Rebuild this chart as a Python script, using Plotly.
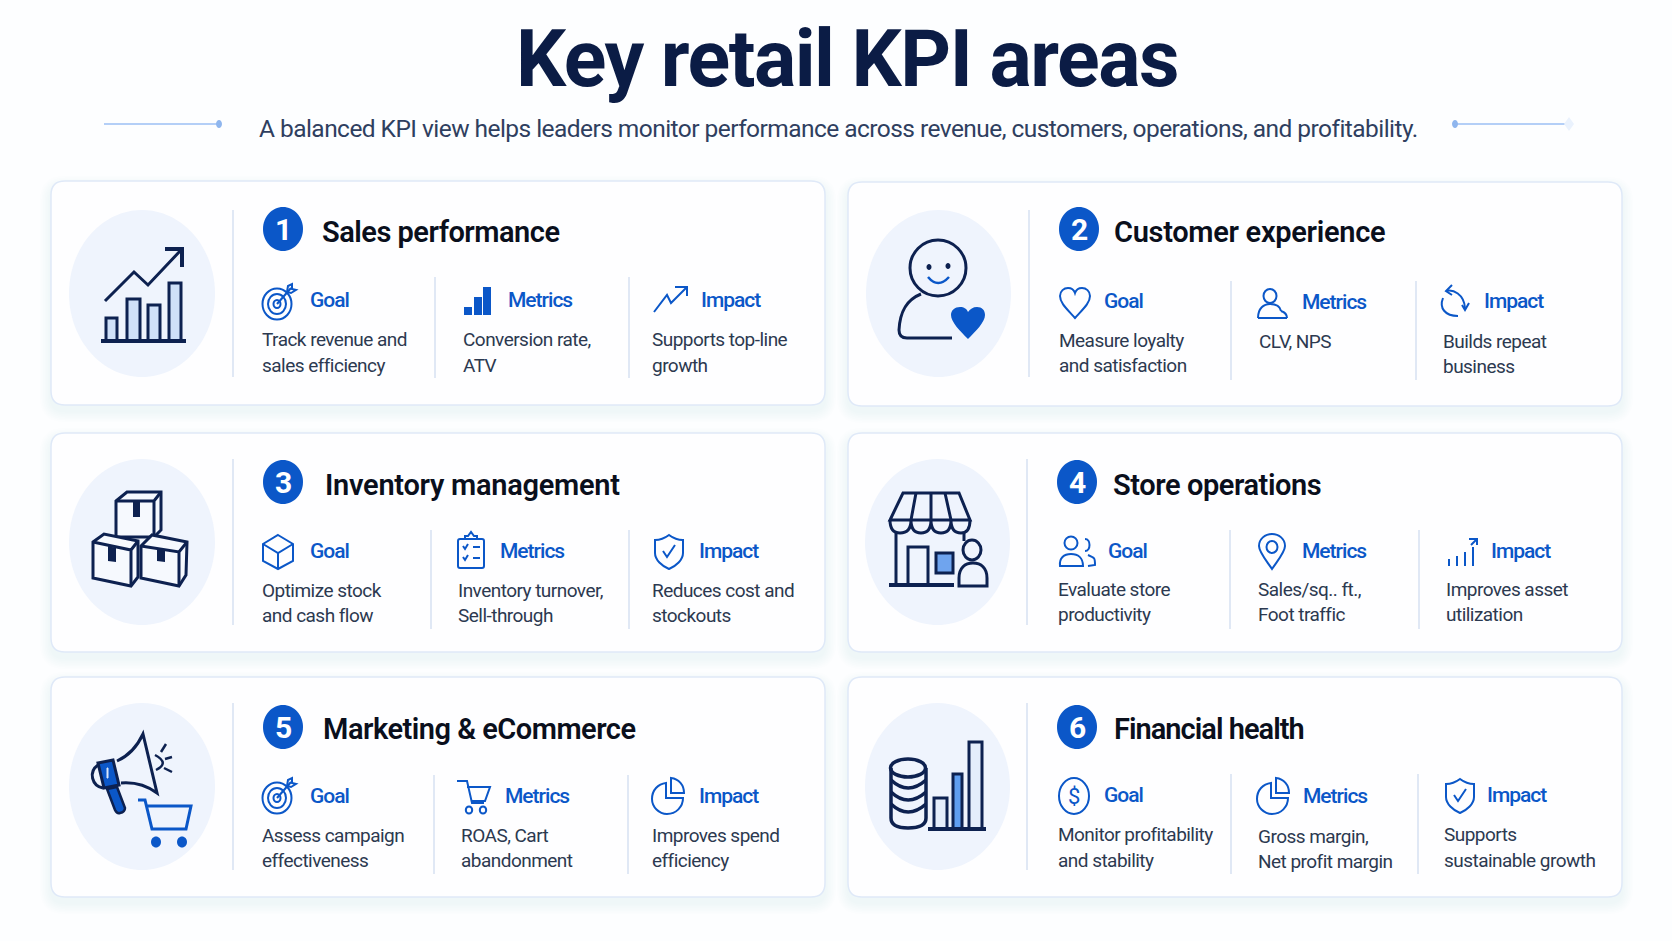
# Key retail KPI areas - infographic drawn with plotly shapes and annotations
import plotly.graph_objects as go

W, H = 1672, 941
FONT = "Roboto"
NAVY = "#0d2150"
BLUE = "#0b57c8"
DARK = "#2c3950"

# ---- text content ----
TITLE = "Key retail KPI areas"
SUBTITLE = "A balanced KPI view helps leaders monitor performance across revenue, customers, operations, and profitability."
HEADINGS = ["Sales performance", "Customer experience", "Inventory management",
            "Store operations", "Marketing & eCommerce", "Financial health"]
LABELS = ["Goal", "Metrics", "Impact"]
GOAL_TEXT = [["Track revenue and", "sales efficiency"], ["Measure loyalty", "and satisfaction"],
             ["Optimize stock", "and cash flow"], ["Evaluate store", "productivity"],
             ["Assess campaign", "effectiveness"], ["Monitor profitability", "and stability"]]
METRIC_TEXT = [["Conversion rate,", "ATV"], ["CLV, NPS"],
               ["Inventory turnover,", "Sell-through"], ["Sales/sq.. ft.,", "Foot traffic"],
               ["ROAS, Cart", "abandonment"], ["Gross margin,", "Net profit margin"]]
IMPACT_TEXT = [["Supports top-line", "growth"], ["Builds repeat", "business"],
               ["Reduces cost and", "stockouts"], ["Improves asset", "utilization"],
               ["Improves spend", "efficiency"], ["Supports", "sustainable growth"]]

# ---- layout of the six cards ----
CARD_BOX = [(51, 181, 825, 405), (848, 182, 1622, 406), (51, 433, 825, 652),
            (848, 433, 1622, 652), (51, 677, 825, 897), (848, 677, 1622, 897)]
BLOB = [(69, 210, 215, 377), (866, 210, 1011, 377), (69, 459, 215, 625),
        (865, 459, 1010, 625), (69, 703, 215, 870), (865, 703, 1010, 870)]
DIVIDER_X = [233, 1029, 233, 1027, 233, 1027]
BADGE_X = [283, 1079, 283, 1077, 283, 1077]
BADGE_Y = [229, 229, 482, 482, 727, 727]
HEAD_X = [321, 1113, 324, 1112, 322, 1113]
HEAD_BASE = [242, 242, 495, 495, 739, 739]
HEAD_LS = [-0.5, -0.3, -0.27, -0.43, -0.5, -0.97]
SEP_X = [(435, 629), (1231, 1416), (431, 629), (1230, 1419), (434, 628), (1231, 1418)]
SEP_Y = [(277, 378), (281, 380), (530, 629), (530, 629), (775, 874), (774, 874)]
ICON_X = [(278, 477, 671), (1075, 1273, 1455), (278, 471, 669),
          (1077, 1272, 1463), (278, 474, 668), (1074, 1273, 1460)]
ICON_Y = [(302, 302, 299), (303, 303, 302), (552, 552, 552),
          (552, 552, 552), (796, 796, 796), (796, 796, 796)]
LABEL_X = [(309, 507, 700), (1103, 1301, 1483), (309, 499, 698),
           (1107, 1301, 1490), (309, 504, 698), (1103, 1302, 1486)]
LABEL_BASE = [(308, 308, 308), (309, 310, 309), (559, 559, 559),
              (559, 559, 559), (804, 804, 804), (803, 804, 803)]
BODY_X = [(261, 462, 651), (1058, 1258, 1442), (261, 457, 651),
          (1057, 1257, 1445), (261, 460, 651), (1057, 1257, 1443)]
BODY_BASE = [((346, 372), (346, 372), (346, 372)), ((347, 372), (348, 373), (348, 373)),
             ((597, 622), (597, 622), (597, 622)), ((596, 621), (596, 621), (596, 621)),
             ((842, 867), (842, 867), (842, 867)), ((841, 867), (843, 868), (841, 867))]
ICON_NAMES = [("target", "bars", "trend"), ("heart", "person", "cycle"),
              ("cube", "clipboard", "shield"), ("people", "pin", "signal"),
              ("target", "cart", "pie"), ("dollar", "pie", "shield")]

shapes, notes = [], []


def path(d, fill=None, line=None, w=0, op=1.0):
    shapes.append(dict(type="path", path=d, xref="x", yref="y", opacity=op,
                       fillcolor=fill or "rgba(0,0,0,0)",
                       line=dict(color=line or "rgba(0,0,0,0)", width=w)))


def rr(x0, y0, x1, y1, r):
    return (f"M {x0+r} {y0} L {x1-r} {y0} Q {x1} {y0} {x1} {y0+r} L {x1} {y1-r} Q {x1} {y1} {x1-r} {y1} "
            f"L {x0+r} {y1} Q {x0} {y1} {x0} {y1-r} L {x0} {y0+r} Q {x0} {y0} {x0+r} {y0} Z")


def ell(cx, cy, rx, ry):
    k = 0.5523
    return (f"M {cx-rx} {cy} C {cx-rx} {cy-k*ry} {cx-k*rx} {cy-ry} {cx} {cy-ry} "
            f"C {cx+k*rx} {cy-ry} {cx+rx} {cy-k*ry} {cx+rx} {cy} "
            f"C {cx+rx} {cy+k*ry} {cx+k*rx} {cy+ry} {cx} {cy+ry} "
            f"C {cx-k*rx} {cy+ry} {cx-rx} {cy+k*ry} {cx-rx} {cy} Z")


def mv(d, dx, dy):
    out, i = [], 0
    for t in d.split():
        if t.isalpha():
            out.append(t)
            i = 0
        else:
            out.append(str(float(t) + (dy if i % 2 else dx)))
            i += 1
    return " ".join(out)


def text(x, base, s, size, color, weight=400, ls=0.0, anchor="left"):
    # y is given as the baseline, shifted to the middle of plotly's text box
    if ls:
        s = f'<span style="letter-spacing:{ls}px">{s}</span>'
    notes.append(dict(x=x, y=base - 0.36 * size, text=s, showarrow=False, xanchor=anchor, yanchor="middle",
                      xref="x", yref="y", borderpad=0,
                      font=dict(family=FONT, size=size, color=color, weight=weight)))


# small line icons, drawn around (0,0)
SHIELD = "M 0 -17 C 4 -14 9 -12 14 -12 L 14 1 C 14 8 7 14 0 17 C -7 14 -14 8 -14 1 L -14 -12 C -9 -12 -4 -14 0 -17 Z"
SMALL = {
    "target": [("s", ell(-1, 2, 14.5, 15.5)), ("s", ell(-1, 2, 9, 10)), ("s", ell(-1, 2, 3.5, 4)),
               ("s", "M -1 2 L 13 -14"), ("s", "M 9 -10 L 10 -16 L 14 -18 L 14 -13 L 18 -12 L 13 -9 L 9 -10")],
    "bars": [("f", "M -13 5 L -5 5 L -5 13 L -13 13 Z"), ("f", "M -3 -5 L 5 -5 L 5 13 L -3 13 Z"),
             ("f", "M 6 -15 L 14 -15 L 14 13 L 6 13 Z")],
    "trend": [("s", "M -17 13 L -4 -4 L 0 4 L 16 -12"), ("s", "M 4 -12 L 16 -12 L 16 -3")],
    "heart": [("s", "M 0 15 C -8 6 -15 0 -15 -7 C -15 -12 -11 -15 -7 -15 C -4 -15 -1 -13 0 -10 "
                    "C 1 -13 4 -15 7 -15 C 11 -15 15 -12 15 -7 C 15 0 8 6 0 15 Z")],
    "person": [("s", ell(-3, -7, 6.5, 7)), ("s", "M -15 15 C -15 5 -9 1 -3 1 C 2 1 7 3 8 8"),
               ("s", "M 8 8 C 11 9 14 11 14 15"), ("s", "M -15 15 L 14 15")],
    "cycle": [("s", "M -9 -11 C -2 -13 9 -8 10 6"), ("s", "M 7 3 L 10 8 L 14 1"), ("s", "M -3 -17 L -9 -11 L -3 -7"),
              ("s", "M -12 -4 C -16 6 -10 14 3 14")],
    "cube": [("s", "M 0 -17 L 15 -8 L 15 9 L 0 17 L -15 9 L -15 -8 Z"), ("s", "M -15 -8 L 0 1 L 15 -8"), ("s", "M 0 1 L 0 17")],
    "clipboard": [("s", rr(-13, -13, 13, 16, 2)), ("s", "M -6 -13 L -6 -16 L -3 -16 L 0 -20 L 3 -16 L 6 -16 L 6 -13 Z"),
                  ("s", "M -8 -6 L -6 -3 L -3 -8"), ("s", "M 2 -5 L 9 -5"),
                  ("s", "M -8 5 L -6 8 L -3 3"), ("s", "M 2 6 L 9 6")],
    "shield": [("s", SHIELD), ("s", "M -6 -1 L -2 5 L 6 -7")],
    "people": [("s", ell(-6, -9, 6.5, 6.5)), ("s", "M -17 14 C -18 6 -13 2 -6 2 C 1 2 6 6 6 14 Z"),
               ("s", "M 8 -13 C 14 -13 14 -1 8 -1"), ("s", "M 11 3 C 18 6 18 6 18 13 L 11 14")],
    "pin": [("s", "M 0 17 C -6 8 -13 0 -13 -6 C -13 -13 -7 -18 0 -18 C 7 -18 13 -13 13 -6 C 13 0 6 8 0 17 Z"),
            ("s", ell(0, -5, 5.5, 6))],
    "signal": [("s", "M -14 7 L -14 14"), ("s", "M -6 4 L -6 14"), ("s", "M 2 0 L 2 14"), ("s", "M 10 -5 L 10 14"),
               ("s", "M 8 -7 L 14 -13"), ("s", "M 6 -13 L 14 -13 L 14 -7")],
    "cart": [("s", "M -17 -15 L -7 -15 L -2 7 L 10 7"), ("s", "M -7 -9 L 16 -9 L 11 5 L -2 5"),
             ("s", ell(-5, 14, 3.2, 3.5)), ("s", ell(9, 14, 3.2, 3.5))],
    "pie": [("s", "M -2 -13 C -10 -12 -16 -6 -16 3 C -16 11 -9 18 -1 18 C 8 18 15 11 15 2 L -2 2 Z"),
            ("s", "M 3 -18 L 3 -3 L 16 -3 C 16 -11 11 -17 3 -18 Z")],
    "dollar": [("s", ell(0, 0, 15, 18))],
}


def small_icon(name, cx, cy):
    for kind, d in SMALL[name]:
        if kind == "f":
            path(mv(d, cx, cy), fill=BLUE)
        else:
            path(mv(d, cx, cy), line=BLUE, w=2)
    if name == "dollar":
        text(cx, cy + 8, "$", 22, BLUE, anchor="center")


def stroke(d, w=3, color=NAVY, fill=None):
    path(d, fill=fill, line=color, w=w)


def big_chart():
    for x0, x1, top in [(106, 117, 318), (127, 140, 299), (148, 160, 305), (169, 181, 283)]:
        stroke(f"M {x0} 341 L {x0} {top} L {x1} {top} L {x1} 341", fill="#cfe0f8")
    stroke("M 101 341 L 186 341", 4)
    stroke("M 105 301 L 134 272 L 148 285 L 181 250")
    stroke("M 165 249 L 182 249 L 182 267", 4)


def big_smile():
    stroke(ell(938, 268, 28, 28))
    path(ell(929, 267, 2.5, 3), fill=NAVY)
    path(ell(948, 266, 2.5, 3), fill=NAVY)
    stroke("M 928 277 Q 938 289 949 277", 2.5, BLUE)
    stroke("M 921 294 C 906 300 900 312 899 330 Q 899 338 907 338 L 952 338")
    path("M 968 339 C 960 331 951 322 951 315 C 951 310 955 307 960 307 C 964 307 967 309 968 312 "
         "C 970 309 973 307 977 307 C 982 307 985 310 985 315 C 985 322 976 331 968 339 Z", fill=BLUE)


def big_boxes():
    stroke("M 116 501 L 127 492 L 161 492 L 161 530 L 154 537 L 116 537 Z", fill="#f6f9fe")
    stroke("M 116 501 L 154 501 L 161 492 M 154 501 L 154 537")
    path("M 133 501 L 140 501 L 140 517 L 133 517 Z", fill=NAVY)
    stroke("M 93 542 L 104 534 L 138 541 L 138 577 L 131 586 L 93 578 Z", fill="#f6f9fe")
    stroke("M 93 542 L 131 550 L 138 541 M 131 550 L 131 586")
    path("M 108 546 L 116 548 L 116 562 L 108 561 Z", fill=NAVY)
    stroke("M 141 546 L 152 535 L 187 542 L 186 575 L 179 586 L 141 578 Z", fill="#f6f9fe")
    stroke("M 141 546 L 179 552 L 187 542 M 179 552 L 179 586")
    path("M 157 549 L 165 550 L 165 562 L 157 561 Z", fill=NAVY)


def big_store():
    stroke("M 896 533 L 896 585 M 964 533 L 964 541")
    stroke("M 889 585 L 954 585", 4)
    stroke("M 908 585 L 908 547 L 928 547 L 928 585")
    stroke("M 936 553 L 953 553 L 953 573 L 936 573 Z", fill="#6fa4ee")
    stroke("M 903 493 L 959 493 L 970 520 L 890 520 Z")
    stroke("M 916 493 L 911 520 M 931 493 L 931 520 M 945 493 L 951 520")
    stroke("M 890 520 Q 890 533 900 533 Q 911 533 911 520 Q 911 533 921 533 Q 931 533 931 520 "
           "Q 931 533 941 533 Q 951 533 951 520 Q 951 533 961 533 Q 970 533 970 520")
    stroke(ell(972, 550, 9, 10))
    stroke("M 959 586 L 959 578 C 959 568 965 563 973 563 C 981 563 987 568 987 578 L 987 586 Z")


def big_megaphone():
    stroke("M 117 761 C 128 756 137 747 143 734 L 157 793 C 146 785 133 782 121 783", 3)
    path("M 107 789 L 117 787 L 125 808 Q 125 812 120 813 Q 117 814 115 810 Z", fill=BLUE, line=NAVY, w=2.5)
    path("M 98 763 L 113 760 L 119 785 L 104 788 Z", fill=BLUE, line=NAVY, w=3)
    path("M 107 768 L 108 768 L 108 778 L 107 778 Z", fill="#dbe8fb", line="#dbe8fb", w=1)
    stroke("M 98 765 C 88 772 92 786 103 788", 3)
    stroke("M 155 755 Q 170 763 156 770", 2.5)
    stroke("M 161 752 L 166 744 M 165 759 L 172 757 M 164 768 L 172 772", 2.5)
    stroke("M 138 800 L 145 800 L 152 829 L 186 829 L 191 806 L 147 806", 3, BLUE)
    path(ell(156, 842, 5, 5.5), fill=BLUE)
    path(ell(182, 842, 5, 5.5), fill=BLUE)


def big_finance():
    for y in [788, 800, 812]:
        stroke(f"M 891 {y-8} Q 908 {y+8} 926 {y-8}", 3.5)
    stroke("M 891 768 L 891 818 Q 891 828 908 828 Q 926 828 926 818 L 926 768", 3.5)
    stroke(ell(908, 768, 17.5, 9), 3.5)
    stroke("M 934 829 L 934 798 L 947 798 L 947 829", fill="#e4edfb")
    stroke("M 953 829 L 953 774 L 962 774 L 962 829", fill="#5f9ef0")
    stroke("M 969 829 L 969 742 L 982 742 L 982 829", fill="#e4edfb")
    stroke("M 928 829 L 986 829", 4)


BIG_ICONS = [big_chart, big_smile, big_boxes, big_store, big_megaphone, big_finance]

# title block
text(W / 2 + 11, 87, TITLE, 79, "#0b1c45", 700, -1.5, "center")
text(838, 137, SUBTITLE, 24.5, "#2f3f5f", 400, -0.55, "center")
path("M 104 124 L 219 124", line="#b4cff7", w=2)
path(ell(219, 124, 3, 4), fill="#8fb6ee")
path("M 1455 124 L 1569 124", line="#b4cff7", w=2)
path(ell(1455, 124, 3, 4), fill="#8fb6ee")
path("M 1569 117 L 1574 124 L 1569 131 L 1564 124 Z", fill="#eaf2fd")

# cards
for c, (x0, y0, x1, y1) in enumerate(CARD_BOX):
    for i in range(7, 0, -1):
        e = i * 1.6
        path(rr(x0 - e, y0 - e + 6, x1 + e, y1 + e + 6, 14 + e), fill="#3f6fb8", op=0.008)
    path(rr(x0, y0, x1, y1, 14), fill="#fefeff", line="#dfe9f8", w=1.5)
    bx0, by0, bx1, by1 = BLOB[c]
    path(ell((bx0 + bx1) / 2, (by0 + by1) / 2, (bx1 - bx0) / 2, (by1 - by0) / 2), fill="#eff4fd")
    path(f"M {DIVIDER_X[c]} {by0} L {DIVIDER_X[c]} {by1}", line="#d6e1f2", w=1.5)
    path(ell(BADGE_X[c], BADGE_Y[c], 20, 22), fill=BLUE)
    text(BADGE_X[c], BADGE_Y[c] + 11, str(c + 1), 30, "#ffffff", 700, 0, "center")
    text(HEAD_X[c], HEAD_BASE[c], HEADINGS[c], 29, "#0a0f1c", 600, HEAD_LS[c])
    for sx in SEP_X[c]:
        path(f"M {sx} {SEP_Y[c][0]} L {sx} {SEP_Y[c][1]}", line="#d6e1f2", w=1.5)
    BIG_ICONS[c]()
    for k, lines in enumerate([GOAL_TEXT[c], METRIC_TEXT[c], IMPACT_TEXT[c]]):
        small_icon(ICON_NAMES[c][k], ICON_X[c][k], ICON_Y[c][k])
        text(LABEL_X[c][k], LABEL_BASE[c][k], LABELS[k], 21, BLUE, 500, -1.0)
        for n, line in enumerate(lines):
            text(BODY_X[c][k], BODY_BASE[c][k][n], line, 19, DARK, 400, -0.53)

fig = go.Figure(go.Scatter(x=[], y=[], hoverinfo="skip", showlegend=False))
fig.update_layout(width=W, height=H, margin=dict(l=0, r=0, t=0, b=0), autosize=False,
                  paper_bgcolor="#fdfeff", plot_bgcolor="#fdfeff", shapes=shapes, annotations=notes,
                  xaxis=dict(range=[0, W], visible=False, fixedrange=True),
                  yaxis=dict(range=[H, 0], visible=False, fixedrange=True))
fig.write_html("out.html", config=dict(displayModeBar=False),
               post_script="document.body.style.margin='0';")
